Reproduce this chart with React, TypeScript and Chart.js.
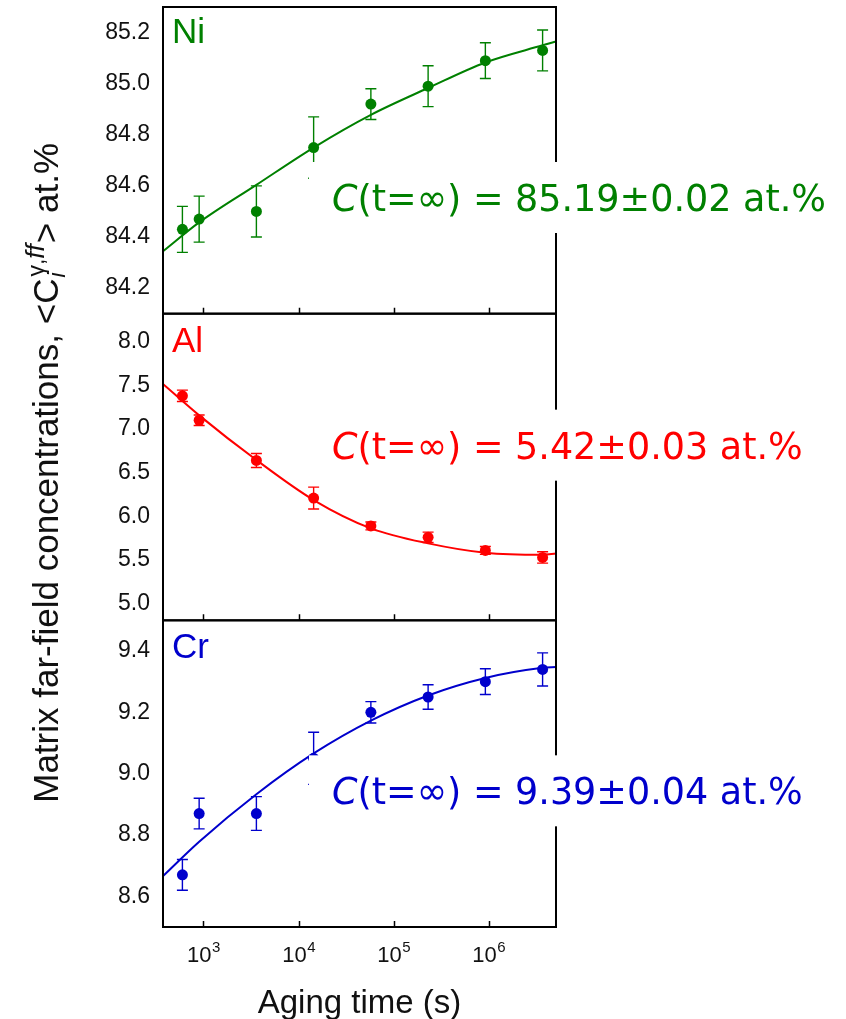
import React, { useEffect, useRef } from "react";
import { Chart, registerables } from "chart.js";

Chart.register(...registerables);

// Aging times (s) of the measured states
const agingTimes = [600, 900, 3600, 14400, 57600, 230400, 921600, 3686400];

// Matrix far-field concentrations (at.%) with their error half-widths
const niValues = [84.43, 84.47, 84.5, 84.75, 84.92, 84.99, 85.09, 85.13];
const niErrors = [0.09, 0.09, 0.1, 0.12, 0.06, 0.08, 0.07, 0.08];
const alValues = [7.38, 7.1, 6.64, 6.21, 5.89, 5.76, 5.61, 5.53];
const alErrors = [0.065, 0.06, 0.08, 0.125, 0.045, 0.06, 0.045, 0.065];
const crValues = [8.67, 8.87, 8.87, 9.05, 9.2, 9.25, 9.3, 9.34];
const crErrors = [0.05, 0.05, 0.055, 0.085, 0.035, 0.04, 0.042, 0.054];

// Fitted curves sampled along the time axis
const fitTimes = [375, 900, 3600, 14400, 57600, 230400, 921600, 3686400, 5100000];
const niFit = [84.344, 84.457, 84.604, 84.75, 84.878, 84.983, 85.083, 85.15, 85.165];
const alFit = [7.515, 7.156, 6.645, 6.187, 5.863, 5.691, 5.584, 5.561, 5.576];
const crFit = [8.666, 8.778, 8.933, 9.066, 9.173, 9.255, 9.312, 9.345, 9.348];

// Axis ticks
const timeDecades = [3, 4, 5, 6];
const niTicks = [84.2, 84.4, 84.6, 84.8, 85.0, 85.2];
const alTicks = [5.0, 5.5, 6.0, 6.5, 7.0, 7.5, 8.0];
const crTicks = [8.6, 8.8, 9.0, 9.2, 9.4];

// Asymptotic concentrations from the fits
const elementNames = ["Ni", "Al", "Cr"];
const limitLabels = ["85.19\u00b10.02", "5.42\u00b10.03", "9.39\u00b10.04"];

const SANS = "'Liberation Sans', Arial, sans-serif";
const LIMIT_FONT = "'DejaVu Sans', sans-serif";

type Panel = {
  key: string;
  name: string;
  color: string;
  values: number[];
  errors: number[];
  fit: number[];
  ticks: number[];
  min: number;
  max: number;
  weight: number;
  limit: string;
  nameBaseline: number;
  limitBaseline: number;
};

const panels: Panel[] = [
  {
    key: "yNi", name: elementNames[0], color: "#008000",
    values: niValues, errors: niErrors, fit: niFit, ticks: niTicks,
    min: 84.1, max: 85.3, weight: 3, limit: limitLabels[0],
    nameBaseline: 36, limitBaseline: 204,
  },
  {
    key: "yAl", name: elementNames[1], color: "#ff0000",
    values: alValues, errors: alErrors, fit: alFit, ticks: alTicks,
    min: 4.81, max: 8.32, weight: 2, limit: limitLabels[1],
    nameBaseline: 38, limitBaseline: 145,
  },
  {
    key: "yCr", name: elementNames[2], color: "#0000cc",
    values: crValues, errors: crErrors, fit: crFit, ticks: crTicks,
    min: 8.5, max: 9.5, weight: 1, limit: limitLabels[2],
    nameBaseline: 38, limitBaseline: 184,
  },
];

const decorPlugin = {
  id: "panelDecor",
  beforeDatasetsDraw(chart: any) {
    const ctx = chart.ctx;
    const x = chart.scales.x;
    ctx.save();
    ctx.lineWidth = 1.4;
    for (const p of panels) {
      const y = chart.scales[p.key];
      ctx.strokeStyle = p.color;
      p.values.forEach((v, i) => {
        const px = x.getPixelForValue(agingTimes[i]);
        const top = y.getPixelForValue(v + p.errors[i]);
        const bot = y.getPixelForValue(v - p.errors[i]);
        ctx.beginPath();
        ctx.moveTo(px, top);
        ctx.lineTo(px, bot);
        ctx.moveTo(px - 5.5, top);
        ctx.lineTo(px + 5.5, top);
        ctx.moveTo(px - 5.5, bot);
        ctx.lineTo(px + 5.5, bot);
        ctx.stroke();
      });
    }
    ctx.restore();
  },
  afterDatasetsDraw(chart: any) {
    const ctx = chart.ctx;
    const x = chart.scales.x;
    const W = chart.width;
    ctx.save();

    // panel frames with inward decade ticks on each bottom edge
    ctx.strokeStyle = "#000";
    for (const p of panels) {
      const y = chart.scales[p.key];
      ctx.lineWidth = 2;
      ctx.strokeRect(x.left, y.top, x.right - x.left, y.bottom - y.top);
      ctx.beginPath();
      for (const e of timeDecades) {
        const px = Math.round(x.getPixelForValue(Math.pow(10, e))) + 0.5;
        ctx.moveTo(px, y.bottom);
        ctx.lineTo(px, y.bottom - 6);
      }
      ctx.lineWidth = 1.5;
      ctx.stroke();
    }

    // horizontal scale shared by the three limit labels
    const ref = "(t=\u221e) = " + panels[0].limit + " at.%";
    ctx.font = `italic 38px ${LIMIT_FONT}`;
    const refC = ctx.measureText("C").width;
    ctx.font = `38px ${LIMIT_FONT}`;
    const sx = 494 / (refC + ctx.measureText(ref).width);

    for (const p of panels) {
      const y = chart.scales[p.key];
      // element name
      ctx.fillStyle = p.color;
      ctx.font = `35px ${SANS}`;
      ctx.textAlign = "left";
      ctx.textBaseline = "alphabetic";
      ctx.fillText(p.name, 172, y.top + p.nameBaseline);

      // asymptotic value on a white plate
      const base = y.top + p.limitBaseline;
      ctx.fillStyle = "#fff";
      ctx.fillRect(309, base - 49, W - 309, 71);
      ctx.save();
      ctx.translate(332, base);
      ctx.scale(sx, 1);
      ctx.fillStyle = p.color;
      ctx.font = `italic 38px ${LIMIT_FONT}`;
      ctx.fillText("C", 0, 0);
      const cw = ctx.measureText("C").width;
      ctx.font = `38px ${LIMIT_FONT}`;
      ctx.fillText("(t=\u221e) = " + p.limit + " at.%", cw, 0);
      ctx.restore();
    }
    ctx.restore();
  },
  afterDraw(chart: any) {
    const ctx = chart.ctx;
    const x = chart.scales.x;
    ctx.save();
    ctx.fillStyle = "#111";
    ctx.textBaseline = "alphabetic";
    ctx.textAlign = "left";

    // decade tick labels 10^n
    for (const e of timeDecades) {
      const px = x.getPixelForValue(Math.pow(10, e));
      ctx.font = `22px ${SANS}`;
      const wb = ctx.measureText("10").width;
      ctx.font = `15px ${SANS}`;
      const we = ctx.measureText(String(e)).width;
      const start = px - (wb + we) / 2;
      ctx.font = `22px ${SANS}`;
      ctx.fillText("10", start, 962);
      ctx.font = `15px ${SANS}`;
      ctx.fillText(String(e), start + wb + 0.5, 952);
    }

    // x title
    ctx.font = `33px ${SANS}`;
    ctx.textAlign = "center";
    ctx.fillText("Aging time (s)", (x.left + x.right) / 2, 1013);

    // y title, rotated, with sub/superscripts
    ctx.textAlign = "left";
    const big = `35px ${SANS}`;
    const small = `23px ${SANS}`;
    const smallIt = `italic 26px ${SANS}`;
    const subIt = `italic 23px ${SANS}`;
    const head = "Matrix far-field concentrations, <C";
    const tail = "> at.%";
    ctx.font = big;
    const wHead = ctx.measureText(head).width;
    const wTail = ctx.measureText(tail).width;
    ctx.font = subIt;
    const wSub = ctx.measureText("i").width;
    ctx.font = small;
    const wG = ctx.measureText("\u03b3,").width;
    ctx.font = smallIt;
    const wF = ctx.measureText("ff").width;
    const wScript = Math.max(wSub, wG + wF) + 3;
    const total = wHead + wScript + wTail;

    ctx.translate(58, 143 + total);
    ctx.rotate(-Math.PI / 2);
    ctx.font = big;
    ctx.fillText(head, 0, 0);
    ctx.font = subIt;
    ctx.fillText("i", wHead + 1, 7);
    ctx.font = small;
    ctx.fillText("\u03b3,", wHead + 2, -14);
    ctx.font = smallIt;
    ctx.fillText("ff", wHead + 2 + wG, -14);
    ctx.font = big;
    ctx.fillText(tail, wHead + wScript, 0);
    ctx.restore();
  },
};

export default function App() {
  const canvasRef = useRef<HTMLCanvasElement | null>(null);

  useEffect(() => {
    const canvas = canvasRef.current;
    if (!canvas) return;

    const datasets: any[] = [];
    for (const p of panels) {
      datasets.push({
        data: fitTimes.map((t, i) => ({ x: t, y: p.fit[i] })),
        showLine: true,
        pointRadius: 0,
        borderColor: p.color,
        borderWidth: 2,
        cubicInterpolationMode: "monotone",
        yAxisID: p.key,
        xAxisID: "x",
      });
      datasets.push({
        data: agingTimes.map((t, i) => ({ x: t, y: p.values[i] })),
        showLine: false,
        pointRadius: 5.5,
        pointBackgroundColor: p.color,
        pointBorderColor: p.color,
        pointBorderWidth: 0,
        yAxisID: p.key,
        xAxisID: "x",
      });
    }

    const yScale = (p: Panel) => ({
      type: "linear",
      position: "left",
      stack: "panels",
      stackWeight: 1,
      weight: p.weight,
      min: p.min,
      max: p.max,
      afterBuildTicks: (s: any) => {
        s.ticks = p.ticks.map((v) => ({ value: v }));
      },
      ticks: {
        autoSkip: false,
        padding: 13,
        color: "#111",
        font: { family: SANS, size: 23 },
        callback: (v: any) => Number(v).toFixed(1),
      },
      grid: { display: false, drawTicks: false },
      border: { display: false },
      afterFit: (s: any) => {
        s.width = 163;
        s.paddingTop = 0;
        s.paddingBottom = 0;
      },
    });

    const chart = new Chart(canvas, {
      type: "scatter",
      data: { datasets },
      plugins: [decorPlugin],
      options: {
        responsive: false,
        animation: false,
        devicePixelRatio: 1,
        layout: { padding: { left: 0, right: 290, top: 7, bottom: 0 } },
        plugins: { legend: { display: false }, tooltip: { enabled: false } },
        scales: {
          x: {
            type: "logarithmic",
            position: "bottom",
            min: 375,
            max: 5100000,
            ticks: { display: false },
            grid: { display: false, drawTicks: false },
            border: { display: false },
            afterFit: (s: any) => {
              s.height = 92;
              s.paddingLeft = 0;
              s.paddingRight = 0;
            },
          },
          yCr: yScale(panels[2]),
          yAl: yScale(panels[1]),
          yNi: yScale(panels[0]),
        },
      } as any,
    });

    return () => chart.destroy();
  }, []);

  return (
    <div style={{ position: "fixed", left: 0, top: 0, width: 846, height: 1019, background: "#fff" }}>
      <canvas ref={canvasRef} width={846} height={1019} style={{ display: "block" }} />
    </div>
  );
}
